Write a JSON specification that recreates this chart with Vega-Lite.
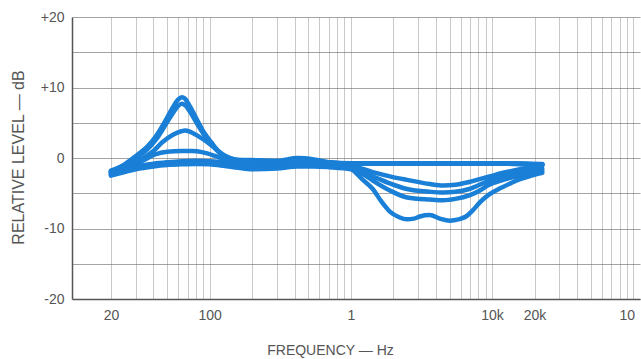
{
  "$schema": "https://vega.github.io/schema/vega-lite/v6.json",
  "width": 568,
  "height": 282,
  "autosize": {"type": "none"},
  "padding": {"left": 72, "top": 17, "right": 1, "bottom": 60},
  "background": "white",
  "config": {"view": {"stroke": null}, "font": "Liberation Sans"},
  "data": {"values": [
    {"c":"B1","f":20,"db":-1.8},{"c":"B1","f":25,"db":-0.9},{"c":"B1","f":28,"db":-0.2},{"c":"B1","f":32,"db":0.7},{"c":"B1","f":36.5,"db":1.7},{"c":"B1","f":42,"db":3.2},{"c":"B1","f":48,"db":5.1},{"c":"B1","f":55,"db":7.2},{"c":"B1","f":60,"db":8.3},{"c":"B1","f":63.5,"db":8.6},{"c":"B1","f":67,"db":8.4},{"c":"B1","f":73,"db":7.2},{"c":"B1","f":83,"db":5.1},{"c":"B1","f":92,"db":3.5},{"c":"B1","f":103,"db":2.2},{"c":"B1","f":115,"db":1.0},{"c":"B1","f":128,"db":0.3},{"c":"B1","f":150,"db":-0.2},{"c":"B1","f":200,"db":-0.3},{"c":"B1","f":300,"db":-0.4},{"c":"B1","f":420,"db":0.0},{"c":"B1","f":550,"db":-0.2},{"c":"B1","f":700,"db":-0.6},{"c":"B1","f":1000,"db":-0.75},{"c":"B1","f":3000,"db":-0.75},{"c":"B1","f":10000,"db":-0.75},{"c":"B1","f":22700,"db":-0.9},
    {"c":"B2","f":20,"db":-1.9},{"c":"B2","f":25,"db":-1.0},{"c":"B2","f":28,"db":-0.4},{"c":"B2","f":32,"db":0.4},{"c":"B2","f":36.5,"db":1.3},{"c":"B2","f":42,"db":2.7},{"c":"B2","f":48,"db":4.5},{"c":"B2","f":55,"db":6.4},{"c":"B2","f":60,"db":7.4},{"c":"B2","f":63.5,"db":7.7},{"c":"B2","f":67,"db":7.5},{"c":"B2","f":73,"db":6.5},{"c":"B2","f":83,"db":4.6},{"c":"B2","f":92,"db":3.2},{"c":"B2","f":103,"db":2.0},{"c":"B2","f":115,"db":0.9},{"c":"B2","f":128,"db":0.2},{"c":"B2","f":150,"db":-0.3},{"c":"B2","f":200,"db":-0.4},{"c":"B2","f":300,"db":-0.5},{"c":"B2","f":420,"db":-0.1},{"c":"B2","f":550,"db":-0.3},{"c":"B2","f":700,"db":-0.6},{"c":"B2","f":1000,"db":-0.8},{"c":"B2","f":3000,"db":-0.8},{"c":"B2","f":10000,"db":-0.8},{"c":"B2","f":22700,"db":-0.9},
    {"c":"B3","f":20,"db":-2.0},{"c":"B3","f":25,"db":-1.3},{"c":"B3","f":30,"db":-0.6},{"c":"B3","f":35,"db":0.2},{"c":"B3","f":40,"db":1.0},{"c":"B3","f":46,"db":2.2},{"c":"B3","f":55,"db":3.3},{"c":"B3","f":63,"db":3.8},{"c":"B3","f":67,"db":3.9},{"c":"B3","f":73,"db":3.7},{"c":"B3","f":83,"db":3.1},{"c":"B3","f":97,"db":2.2},{"c":"B3","f":110,"db":1.3},{"c":"B3","f":122,"db":0.6},{"c":"B3","f":140,"db":0.0},{"c":"B3","f":170,"db":-0.4},{"c":"B3","f":200,"db":-0.5},{"c":"B3","f":300,"db":-0.6},{"c":"B3","f":420,"db":-0.2},{"c":"B3","f":550,"db":-0.4},{"c":"B3","f":700,"db":-0.7},{"c":"B3","f":1000,"db":-0.8},{"c":"B3","f":3000,"db":-0.8},{"c":"B3","f":10000,"db":-0.8},{"c":"B3","f":22700,"db":-0.9},
    {"c":"B4","f":20,"db":-2.0},{"c":"B4","f":25,"db":-1.4},{"c":"B4","f":30,"db":-0.8},{"c":"B4","f":35,"db":-0.2},{"c":"B4","f":41,"db":0.5},{"c":"B4","f":50,"db":0.9},{"c":"B4","f":63,"db":1.0},{"c":"B4","f":75,"db":1.0},{"c":"B4","f":90,"db":0.8},{"c":"B4","f":109,"db":0.3},{"c":"B4","f":128,"db":-0.2},{"c":"B4","f":160,"db":-0.5},{"c":"B4","f":200,"db":-0.6},{"c":"B4","f":300,"db":-0.7},{"c":"B4","f":420,"db":-0.3},{"c":"B4","f":550,"db":-0.5},{"c":"B4","f":700,"db":-0.7},{"c":"B4","f":1000,"db":-0.8},{"c":"B4","f":3000,"db":-0.8},{"c":"B4","f":10000,"db":-0.8},{"c":"B4","f":22700,"db":-0.9},
    {"c":"F","f":20,"db":-2.1},{"c":"F","f":25,"db":-1.6},{"c":"F","f":30,"db":-1.2},{"c":"F","f":40,"db":-0.8},{"c":"F","f":50,"db":-0.6},{"c":"F","f":63,"db":-0.45},{"c":"F","f":80,"db":-0.4},{"c":"F","f":100,"db":-0.45},{"c":"F","f":125,"db":-0.6},{"c":"F","f":160,"db":-0.8},{"c":"F","f":200,"db":-0.9},{"c":"F","f":300,"db":-0.8},{"c":"F","f":420,"db":-0.4},{"c":"F","f":550,"db":-0.5},{"c":"F","f":700,"db":-0.7},{"c":"F","f":1000,"db":-0.8},{"c":"F","f":3000,"db":-0.8},{"c":"F","f":10000,"db":-0.75},{"c":"F","f":22700,"db":-0.85},
    {"c":"C1","f":20,"db":-2.2},{"c":"C1","f":25,"db":-1.7},{"c":"C1","f":30,"db":-1.3},{"c":"C1","f":40,"db":-0.9},{"c":"C1","f":50,"db":-0.7},{"c":"C1","f":63,"db":-0.6},{"c":"C1","f":80,"db":-0.55},{"c":"C1","f":100,"db":-0.6},{"c":"C1","f":125,"db":-0.8},{"c":"C1","f":160,"db":-1.0},{"c":"C1","f":200,"db":-1.1},{"c":"C1","f":300,"db":-1.0},{"c":"C1","f":420,"db":-0.6},{"c":"C1","f":550,"db":-0.7},{"c":"C1","f":700,"db":-0.9},{"c":"C1","f":1000,"db":-1.1},{"c":"C1","f":1430,"db":-2.0},{"c":"C1","f":1890,"db":-2.6},{"c":"C1","f":2500,"db":-3.1},{"c":"C1","f":3630,"db":-3.7},{"c":"C1","f":4500,"db":-3.9},{"c":"C1","f":5500,"db":-3.8},{"c":"C1","f":6900,"db":-3.4},{"c":"C1","f":9300,"db":-2.7},{"c":"C1","f":12000,"db":-2.1},{"c":"C1","f":15800,"db":-1.6},{"c":"C1","f":22700,"db":-1.1},
    {"c":"C2","f":20,"db":-2.3},{"c":"C2","f":25,"db":-1.8},{"c":"C2","f":30,"db":-1.4},{"c":"C2","f":40,"db":-1.0},{"c":"C2","f":50,"db":-0.8},{"c":"C2","f":63,"db":-0.7},{"c":"C2","f":80,"db":-0.65},{"c":"C2","f":100,"db":-0.7},{"c":"C2","f":125,"db":-0.9},{"c":"C2","f":160,"db":-1.2},{"c":"C2","f":200,"db":-1.3},{"c":"C2","f":300,"db":-1.2},{"c":"C2","f":420,"db":-0.8},{"c":"C2","f":550,"db":-0.9},{"c":"C2","f":700,"db":-1.1},{"c":"C2","f":1000,"db":-1.3},{"c":"C2","f":1430,"db":-2.6},{"c":"C2","f":1890,"db":-3.6},{"c":"C2","f":2500,"db":-4.4},{"c":"C2","f":3630,"db":-4.8},{"c":"C2","f":4500,"db":-4.9},{"c":"C2","f":5500,"db":-4.8},{"c":"C2","f":6900,"db":-4.4},{"c":"C2","f":9300,"db":-3.3},{"c":"C2","f":12000,"db":-2.6},{"c":"C2","f":15800,"db":-2.0},{"c":"C2","f":22700,"db":-1.5},
    {"c":"C3","f":20,"db":-2.4},{"c":"C3","f":25,"db":-1.9},{"c":"C3","f":30,"db":-1.5},{"c":"C3","f":40,"db":-1.1},{"c":"C3","f":50,"db":-0.9},{"c":"C3","f":63,"db":-0.8},{"c":"C3","f":80,"db":-0.75},{"c":"C3","f":100,"db":-0.8},{"c":"C3","f":125,"db":-1.0},{"c":"C3","f":160,"db":-1.3},{"c":"C3","f":200,"db":-1.5},{"c":"C3","f":300,"db":-1.4},{"c":"C3","f":420,"db":-1.0},{"c":"C3","f":550,"db":-1.1},{"c":"C3","f":700,"db":-1.2},{"c":"C3","f":1000,"db":-1.4},{"c":"C3","f":1200,"db":-2.2},{"c":"C3","f":1430,"db":-3.2},{"c":"C3","f":1890,"db":-4.6},{"c":"C3","f":2500,"db":-5.6},{"c":"C3","f":3630,"db":-5.9},{"c":"C3","f":4500,"db":-6.0},{"c":"C3","f":5500,"db":-5.8},{"c":"C3","f":6900,"db":-5.3},{"c":"C3","f":8200,"db":-4.6},{"c":"C3","f":9300,"db":-3.9},{"c":"C3","f":12000,"db":-3.1},{"c":"C3","f":15800,"db":-2.5},{"c":"C3","f":22700,"db":-1.8},
    {"c":"C4","f":20,"db":-2.5},{"c":"C4","f":25,"db":-2.0},{"c":"C4","f":30,"db":-1.6},{"c":"C4","f":40,"db":-1.2},{"c":"C4","f":50,"db":-1.0},{"c":"C4","f":63,"db":-0.9},{"c":"C4","f":80,"db":-0.85},{"c":"C4","f":100,"db":-0.9},{"c":"C4","f":125,"db":-1.1},{"c":"C4","f":160,"db":-1.4},{"c":"C4","f":200,"db":-1.6},{"c":"C4","f":300,"db":-1.5},{"c":"C4","f":420,"db":-1.2},{"c":"C4","f":550,"db":-1.2},{"c":"C4","f":700,"db":-1.3},{"c":"C4","f":1000,"db":-1.6},{"c":"C4","f":1200,"db":-3.0},{"c":"C4","f":1430,"db":-4.4},{"c":"C4","f":1650,"db":-6.2},{"c":"C4","f":1890,"db":-7.6},{"c":"C4","f":2200,"db":-8.4},{"c":"C4","f":2500,"db":-8.7},{"c":"C4","f":2800,"db":-8.6},{"c":"C4","f":3080,"db":-8.3},{"c":"C4","f":3630,"db":-8.1},{"c":"C4","f":4270,"db":-8.6},{"c":"C4","f":5000,"db":-8.9},{"c":"C4","f":5500,"db":-8.8},{"c":"C4","f":6640,"db":-8.2},{"c":"C4","f":7400,"db":-7.3},{"c":"C4","f":8200,"db":-6.3},{"c":"C4","f":9500,"db":-5.2},{"c":"C4","f":11400,"db":-4.3},{"c":"C4","f":13500,"db":-3.6},{"c":"C4","f":15800,"db":-3.0},{"c":"C4","f":19000,"db":-2.5},{"c":"C4","f":22700,"db":-2.1}
  ]},
  "mark": {"type": "line", "color": "#1a7fd6", "strokeWidth": 4.5, "interpolate": "monotone", "strokeCap": "round", "strokeJoin": "round", "clip": true},
  "encoding": {
    "detail": {"field": "c"},
    "x": {
      "field": "f", "type": "quantitative",
      "scale": {"type": "log", "domain": [10.6, 111700], "nice": false},
      "axis": {
        "values": [20,30,40,50,60,70,80,90,100,200,300,400,500,600,700,800,900,1000,2000,3000,4000,5000,6000,7000,8000,9000,10000,20000,30000,40000,50000,60000,70000,80000,90000,100000],
        "labelExpr": "datum.value == 20 ? '20' : datum.value == 100 ? '100' : datum.value == 1000 ? '1' : datum.value == 10000 ? '10k' : datum.value == 20000 ? '20k' : datum.value == 90000 ? '10' : ''",
        "labelOverlap": false, "labelBound": false, "labelFlush": false,
        "labelFontSize": 14, "labelColor": "#555", "labelPadding": 9,
        "ticks": false,
        "grid": true, "gridColor": "#888", "gridOpacity": 0.45, "gridWidth": 1,
        "domainColor": "#555", "domainWidth": 1.5,
        "title": "FREQUENCY — Hz", "titleFontSize": 14, "titleFontWeight": "normal", "titleColor": "#555",
        "titleX": 258, "titleY": 51, "titleAlign": "center", "titleBaseline": "middle"
      }
    },
    "y": {
      "field": "db", "type": "quantitative",
      "scale": {"domain": [-20, 20], "nice": false, "zero": false},
      "axis": {
        "values": [-20,-15,-10,-5,0,5,10,15,20],
        "labelExpr": "datum.value % 10 == 0 ? (datum.value > 0 ? '+' + datum.value : '' + datum.value) : ''",
        "labelOverlap": false, "labelBound": false, "labelFlush": false,
        "labelFontSize": 14, "labelColor": "#555", "labelPadding": 8,
        "ticks": false,
        "grid": true, "gridColor": "#666", "gridOpacity": 0.6, "gridWidth": 1,
        "domainColor": "#555", "domainWidth": 1.5,
        "title": "RELATIVE LEVEL — dB", "titleFontSize": 16, "titleFontWeight": "normal", "titleColor": "#555",
        "titleX": -54, "titleY": 140, "titleAlign": "center", "titleBaseline": "middle", "titleAngle": -90
      }
    }
  }
}
